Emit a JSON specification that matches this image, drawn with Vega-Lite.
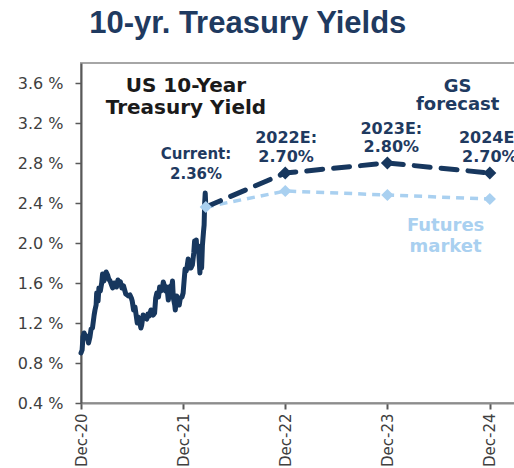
{
  "$schema": "https://vega.github.io/schema/vega-lite/v6.json",
  "width": 434,
  "height": 340,
  "autosize": "none",
  "padding": {"left": 81, "top": 63, "right": 0, "bottom": 65},
  "background": "white",
  "title": {
    "text": "10-yr. Treasury Yields",
    "font": "Liberation Sans",
    "fontSize": 31,
    "fontWeight": "bold",
    "color": "#1f3a60",
    "anchor": "start",
    "dx": 72,
    "dy": 32,
    "offset": 31,
    "baseline": "alphabetic"
  },
  "config": {
    "view": {"stroke": "#a6a6a6", "strokeWidth": 2},
    "axis": {"grid": false}
  },
  "datasets": {
    "history": [
      {"date": "2020-12-31", "value": 0.90}, {"date": "2021-01-04", "value": 0.93}, {"date": "2021-01-07", "value": 1.06},
      {"date": "2021-01-11", "value": 1.10}, {"date": "2021-01-14", "value": 1.08}, {"date": "2021-01-19", "value": 1.05},
      {"date": "2021-01-22", "value": 1.07}, {"date": "2021-01-27", "value": 1.00}, {"date": "2021-02-01", "value": 1.06},
      {"date": "2021-02-05", "value": 1.14}, {"date": "2021-02-10", "value": 1.15}, {"date": "2021-02-16", "value": 1.28},
      {"date": "2021-02-19", "value": 1.33}, {"date": "2021-02-23", "value": 1.38}, {"date": "2021-02-25", "value": 1.50},
      {"date": "2021-03-02", "value": 1.42}, {"date": "2021-03-05", "value": 1.55}, {"date": "2021-03-10", "value": 1.52},
      {"date": "2021-03-15", "value": 1.60}, {"date": "2021-03-18", "value": 1.69}, {"date": "2021-03-23", "value": 1.62},
      {"date": "2021-03-26", "value": 1.66}, {"date": "2021-03-31", "value": 1.71}, {"date": "2021-04-05", "value": 1.68},
      {"date": "2021-04-09", "value": 1.64}, {"date": "2021-04-14", "value": 1.62}, {"date": "2021-04-19", "value": 1.58},
      {"date": "2021-04-23", "value": 1.55}, {"date": "2021-04-28", "value": 1.60}, {"date": "2021-05-03", "value": 1.58},
      {"date": "2021-05-07", "value": 1.56}, {"date": "2021-05-12", "value": 1.63}, {"date": "2021-05-17", "value": 1.60},
      {"date": "2021-05-21", "value": 1.61}, {"date": "2021-05-26", "value": 1.55}, {"date": "2021-06-01", "value": 1.57},
      {"date": "2021-06-04", "value": 1.54}, {"date": "2021-06-09", "value": 1.49}, {"date": "2021-06-14", "value": 1.48},
      {"date": "2021-06-18", "value": 1.47}, {"date": "2021-06-24", "value": 1.48}, {"date": "2021-06-29", "value": 1.45},
      {"date": "2021-07-02", "value": 1.42}, {"date": "2021-07-07", "value": 1.33}, {"date": "2021-07-12", "value": 1.36},
      {"date": "2021-07-16", "value": 1.28}, {"date": "2021-07-20", "value": 1.20}, {"date": "2021-07-23", "value": 1.26},
      {"date": "2021-07-28", "value": 1.22}, {"date": "2021-08-02", "value": 1.15}, {"date": "2021-08-05", "value": 1.18},
      {"date": "2021-08-10", "value": 1.28}, {"date": "2021-08-13", "value": 1.25}, {"date": "2021-08-18", "value": 1.25},
      {"date": "2021-08-23", "value": 1.24}, {"date": "2021-08-27", "value": 1.29}, {"date": "2021-09-01", "value": 1.27},
      {"date": "2021-09-07", "value": 1.33}, {"date": "2021-09-10", "value": 1.30}, {"date": "2021-09-15", "value": 1.28},
      {"date": "2021-09-20", "value": 1.30}, {"date": "2021-09-24", "value": 1.45}, {"date": "2021-09-28", "value": 1.50},
      {"date": "2021-10-04", "value": 1.46}, {"date": "2021-10-08", "value": 1.56}, {"date": "2021-10-13", "value": 1.52},
      {"date": "2021-10-18", "value": 1.55}, {"date": "2021-10-21", "value": 1.61}, {"date": "2021-10-26", "value": 1.56},
      {"date": "2021-10-29", "value": 1.52}, {"date": "2021-11-03", "value": 1.56}, {"date": "2021-11-08", "value": 1.43},
      {"date": "2021-11-12", "value": 1.50}, {"date": "2021-11-16", "value": 1.57}, {"date": "2021-11-19", "value": 1.52},
      {"date": "2021-11-23", "value": 1.62}, {"date": "2021-11-26", "value": 1.45}, {"date": "2021-12-01", "value": 1.38},
      {"date": "2021-12-03", "value": 1.33}, {"date": "2021-12-08", "value": 1.47}, {"date": "2021-12-13", "value": 1.40},
      {"date": "2021-12-17", "value": 1.38}, {"date": "2021-12-21", "value": 1.45}, {"date": "2021-12-27", "value": 1.46},
      {"date": "2021-12-31", "value": 1.50}, {"date": "2022-01-04", "value": 1.64}, {"date": "2022-01-07", "value": 1.74},
      {"date": "2022-01-11", "value": 1.72}, {"date": "2022-01-14", "value": 1.76}, {"date": "2022-01-18", "value": 1.84},
      {"date": "2022-01-21", "value": 1.75}, {"date": "2022-01-25", "value": 1.77}, {"date": "2022-01-28", "value": 1.75},
      {"date": "2022-02-02", "value": 1.78}, {"date": "2022-02-07", "value": 1.90}, {"date": "2022-02-10", "value": 2.02},
      {"date": "2022-02-14", "value": 1.98}, {"date": "2022-02-16", "value": 2.03}, {"date": "2022-02-18", "value": 1.92},
      {"date": "2022-02-23", "value": 1.97}, {"date": "2022-02-25", "value": 1.90}, {"date": "2022-03-01", "value": 1.70},
      {"date": "2022-03-03", "value": 1.86}, {"date": "2022-03-07", "value": 1.75}, {"date": "2022-03-10", "value": 1.98},
      {"date": "2022-03-14", "value": 2.12}, {"date": "2022-03-16", "value": 2.18}, {"date": "2022-03-18", "value": 2.40},
      {"date": "2022-03-20", "value": 2.50}, {"date": "2022-03-22", "value": 2.36}
    ],
    "forecast": [
      {"series": "GS forecast", "kind": "start", "date": "2022-03-22", "value": 2.36},
      {"series": "GS forecast", "kind": "target", "date": "2022-12-31", "value": 2.70},
      {"series": "GS forecast", "kind": "target", "date": "2023-12-31", "value": 2.80},
      {"series": "GS forecast", "kind": "target", "date": "2024-12-31", "value": 2.70},
      {"series": "Futures market", "kind": "start", "date": "2022-03-22", "value": 2.36},
      {"series": "Futures market", "kind": "target", "date": "2022-12-31", "value": 2.52},
      {"series": "Futures market", "kind": "target", "date": "2023-12-31", "value": 2.48},
      {"series": "Futures market", "kind": "target", "date": "2024-12-31", "value": 2.44}
    ],
    "labels": [
      {"group": "inset", "text": "US 10-Year", "date": "2022-01-10", "value": 3.51},
      {"group": "inset", "text": "Treasury Yield", "date": "2022-01-10", "value": 3.29},
      {"group": "current", "text": "Current:", "date": "2022-02-15", "value": 2.84},
      {"group": "current", "text": "2.36%", "date": "2022-02-15", "value": 2.64},
      {"group": "year", "text": "2022E:", "date": "2023-01-03", "value": 3.00},
      {"group": "year", "text": "2.70%", "date": "2023-01-03", "value": 2.81},
      {"group": "year", "text": "2023E:", "date": "2024-01-14", "value": 3.09},
      {"group": "year", "text": "2.80%", "date": "2024-01-14", "value": 2.91},
      {"group": "year", "text": "2024E:", "date": "2024-12-31", "value": 3.00},
      {"group": "year", "text": "2.70%", "date": "2024-12-31", "value": 2.81},
      {"group": "gs", "text": "GS", "date": "2024-09-07", "value": 3.51},
      {"group": "gs", "text": "forecast", "date": "2024-09-07", "value": 3.33},
      {"group": "futures", "text": "Futures", "date": "2024-07-26", "value": 2.12},
      {"group": "futures", "text": "market", "date": "2024-07-26", "value": 1.91}
    ]
  },
  "layer": [
    {
      "data": {"name": "history"},
      "mark": {"type": "line", "color": "#17375e", "strokeWidth": 5, "strokeJoin": "round", "strokeCap": "round"},
      "encoding": {
        "x": {
          "field": "date", "type": "temporal",
          "scale": {"type": "utc", "domain": [{"year": 2020, "month": 12, "date": 31, "utc": true}, {"year": 2025, "month": 3, "date": 31, "utc": true}]},
          "axis": {
            "title": null,
            "values": [
              {"year": 2020, "month": 12, "date": 31, "utc": true},
              {"year": 2021, "month": 12, "date": 31, "utc": true},
              {"year": 2022, "month": 12, "date": 31, "utc": true},
              {"year": 2023, "month": 12, "date": 31, "utc": true},
              {"year": 2024, "month": 12, "date": 31, "utc": true}
            ],
            "labelExpr": "utcFormat(datum.value, '%b-%y')",
            "labelAngle": -90,
            "labelFont": "DejaVu Sans",
            "labelFontSize": 15,
            "labelColor": "#404040",
            "labelPadding": 4,
            "tickSize": 6,
            "tickWidth": 2,
            "tickColor": "#595959",
            "domainColor": "#8c8c8c",
            "domainWidth": 2
          }
        },
        "y": {
          "field": "value", "type": "quantitative",
          "scale": {"domain": [0.4, 3.8], "nice": false, "zero": false},
          "axis": {
            "title": null,
            "values": [0.4, 0.8, 1.2, 1.6, 2.0, 2.4, 2.8, 3.2, 3.6],
            "labelExpr": "format(datum.value, '.1f') + ' %'",
            "labelFont": "DejaVu Sans",
            "labelFontSize": 16,
            "labelColor": "#404040",
            "labelPadding": 12,
            "tickSize": 6,
            "tickWidth": 1.5,
            "tickColor": "#595959",
            "domainColor": "#595959",
            "domainWidth": 2
          }
        }
      }
    },
    {
      "data": {"name": "forecast"},
      "transform": [{"filter": "datum.series === 'Futures market'"}],
      "mark": {"type": "line", "color": "#a9d0f0", "strokeWidth": 3.5, "strokeDash": [8, 6]},
      "encoding": {
        "x": {"field": "date", "type": "temporal"},
        "y": {"field": "value", "type": "quantitative"}
      }
    },
    {
      "data": {"name": "forecast"},
      "transform": [{"filter": "datum.series === 'GS forecast'"}],
      "mark": {"type": "line", "color": "#17375e", "strokeWidth": 5, "strokeDash": [16, 11], "strokeCap": "round"},
      "encoding": {
        "x": {"field": "date", "type": "temporal"},
        "y": {"field": "value", "type": "quantitative"}
      }
    },
    {
      "data": {"name": "forecast"},
      "transform": [{"filter": "datum.series === 'Futures market'"}],
      "mark": {"type": "point", "shape": "diamond", "filled": true, "color": "#a9d0f0", "opacity": 1, "size": 150},
      "encoding": {
        "x": {"field": "date", "type": "temporal"},
        "y": {"field": "value", "type": "quantitative"}
      }
    },
    {
      "data": {"name": "forecast"},
      "transform": [{"filter": "datum.series === 'GS forecast' && datum.kind === 'target'"}],
      "mark": {"type": "point", "shape": "diamond", "filled": true, "color": "#17375e", "opacity": 1, "size": 170},
      "encoding": {
        "x": {"field": "date", "type": "temporal"},
        "y": {"field": "value", "type": "quantitative"}
      }
    },
    {
      "data": {"name": "labels"},
      "transform": [{"filter": "datum.group === 'inset'"}],
      "mark": {"type": "text", "font": "DejaVu Sans", "fontWeight": "bold", "fontSize": 20, "color": "#1a1a1a", "align": "center", "baseline": "alphabetic"},
      "encoding": {
        "x": {"field": "date", "type": "temporal"},
        "y": {"field": "value", "type": "quantitative"},
        "text": {"field": "text"}
      }
    },
    {
      "data": {"name": "labels"},
      "transform": [{"filter": "datum.group === 'current'"}],
      "mark": {"type": "text", "font": "DejaVu Sans", "fontWeight": "bold", "fontSize": 15, "color": "#1f3a60", "align": "center", "baseline": "alphabetic"},
      "encoding": {
        "x": {"field": "date", "type": "temporal"},
        "y": {"field": "value", "type": "quantitative"},
        "text": {"field": "text"}
      }
    },
    {
      "data": {"name": "labels"},
      "transform": [{"filter": "datum.group === 'year'"}],
      "mark": {"type": "text", "font": "DejaVu Sans", "fontWeight": "bold", "fontSize": 16, "color": "#1f3a60", "align": "center", "baseline": "alphabetic"},
      "encoding": {
        "x": {"field": "date", "type": "temporal"},
        "y": {"field": "value", "type": "quantitative"},
        "text": {"field": "text"}
      }
    },
    {
      "data": {"name": "labels"},
      "transform": [{"filter": "datum.group === 'gs'"}],
      "mark": {"type": "text", "font": "DejaVu Sans", "fontWeight": "bold", "fontSize": 18, "color": "#1f3a60", "align": "center", "baseline": "alphabetic"},
      "encoding": {
        "x": {"field": "date", "type": "temporal"},
        "y": {"field": "value", "type": "quantitative"},
        "text": {"field": "text"}
      }
    },
    {
      "data": {"name": "labels"},
      "transform": [{"filter": "datum.group === 'futures'"}],
      "mark": {"type": "text", "font": "DejaVu Sans", "fontWeight": "bold", "fontSize": 18, "color": "#a9d0f0", "align": "center", "baseline": "alphabetic"},
      "encoding": {
        "x": {"field": "date", "type": "temporal"},
        "y": {"field": "value", "type": "quantitative"},
        "text": {"field": "text"}
      }
    }
  ]
}
